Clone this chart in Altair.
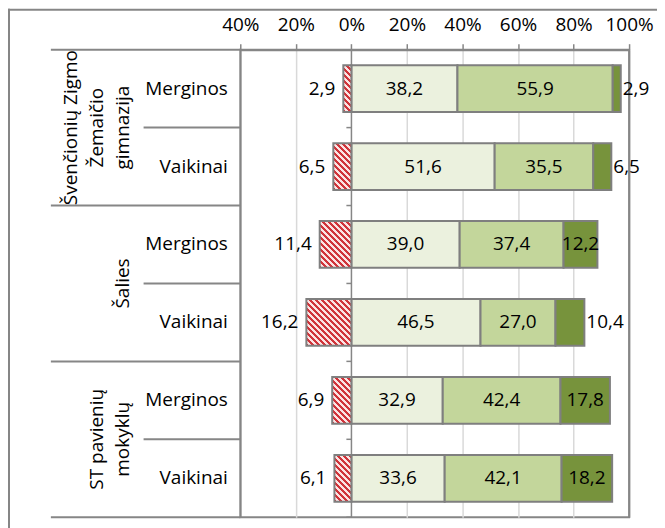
import altair as alt
import pandas as pd

# ---------------- data ----------------
group_names = ["Švenčionių Zigmo\nŽemaičio\ngimnazija", "Šalies", "ST pavienių\nmokyklų"]
genders = ["Merginos", "Vaikinai", "Merginos", "Vaikinai", "Merginos", "Vaikinai"]
negative = [2.9, 6.5, 11.4, 16.2, 6.9, 6.1]
part1 = [38.2, 51.6, 39.0, 46.5, 32.9, 33.6]
part2 = [55.9, 35.5, 37.4, 27.0, 42.4, 42.1]
part3 = [2.9, 6.5, 12.2, 10.4, 17.8, 18.2]
x_ticks = [-40, -20, 0, 20, 40, 60, 80, 100]

# ---------------- style ----------------
FONT = "Open Sans"
FS = 19
GRAY = "#868686"
BAR_STROKE = "#7F7F7F"
GRID = "#D9D9D9"
COLORS = ["#EBF1DE", "#C3D69B", "#77933C"]
RED = "#D0343A"
PINK = "#FBE3E3"
W, H = 390, 469
X_MIN, X_MAX = -40, 100
PX = W / (X_MAX - X_MIN)
BAND = 0.6
BAR_H = H / 6 * BAND
LH = 26

keys = [f"{i}|{g}" for i, g in enumerate(genders)]


def fmt(v):
    return f"{v:.1f}".replace(".", ",")


seg_rows = []
for i, k in enumerate(keys):
    start = 0.0
    for s, v in enumerate([part1[i], part2[i], part3[i]]):
        seg_rows.append(dict(key=k, seg=f"s{s}", x0=start, x1=start + v,
                             mid=start + v / 2, label=fmt(v),
                             small=bool(s == 2 and v < 11)))
        start += v
seg_df = pd.DataFrame(seg_rows)

neg_df = pd.DataFrame(dict(i=list(range(6)), key=keys,
                           x0=[-v for v in negative], zero=[0.0] * 6,
                           label=[fmt(v) for v in negative]))

group_df = pd.DataFrame(dict(g=[0, 1, 2], key=[keys[0], keys[2], keys[4]], name=group_names))
one = pd.DataFrame({"a": [0]})

XS = alt.Scale(domain=[X_MIN, X_MAX], nice=False, zero=False)
XAXIS = alt.Axis(
    orient="top", values=x_ticks, labelExpr="abs(datum.value) + '%'", title=None,
    grid=True,
    gridColor={"condition": {"test": "datum.value == -40 || datum.value == 0 || datum.value == 100",
                             "value": GRAY}, "value": GRID},
    gridWidth=1.5, domainColor=GRAY, domainWidth=2, tickColor=GRAY, tickWidth=1.5,
    tickSize=6, labelPadding=9, labelFont=FONT, labelFontSize=FS, labelColor="black",
    labelFlush=False, labelOverlap=False)

YS = alt.Scale(domain=keys, paddingInner=0, paddingOuter=0)
YAXIS = alt.Axis(title=None, ticks=False, domain=False,
                 labelExpr="split(datum.label, '|')[1]", labelPadding=13,
                 labelFont=FONT, labelFontSize=FS, labelColor="black", labelAlign="right")


def Y(band=None):
    kw = {}
    if band is not None:
        kw["bandPosition"] = band
    return alt.Y("key:N", scale=YS, axis=YAXIS, sort=keys, **kw)


def X(f):
    return alt.X(f"{f}:Q", scale=XS, axis=XAXIS)


def hatch(w, h, period=6.0):
    s = (w + h) / (w * w + h * h)
    total = w + h
    stops = []
    k = 0
    while True:
        a = k * period / total
        b = (k + 0.5) * period / total
        c = (k + 1) * period / total
        stops += [{"offset": min(a, 1), "color": RED}, {"offset": min(b, 1), "color": RED},
                  {"offset": min(b, 1), "color": PINK}, {"offset": min(c, 1), "color": PINK}]
        k += 1
        if c >= 1:
            break
    return {"gradient": "linear", "x1": 0, "y1": 1, "x2": w * s, "y2": 1 - h * s, "stops": stops}


layers = []

# positive stacked segments
layers.append(
    alt.Chart(seg_df).mark_bar(height={"band": BAND}, stroke=BAR_STROKE, strokeWidth=2).encode(
        y=Y(), x=X("x0"), x2="x1",
        color=alt.Color("seg:N", scale=alt.Scale(domain=["s0", "s1", "s2"], range=COLORS), legend=None))
)

# negative hatched bars
for i in range(6):
    w = negative[i] * PX
    layers.append(
        alt.Chart(neg_df).transform_filter(alt.datum.i == i).mark_bar(
            height={"band": BAND}, fill=hatch(w, BAR_H), stroke=BAR_STROKE, strokeWidth=2).encode(
            y=Y(), x=X("x0"), x2="zero")
    )

txt = dict(font=FONT, fontSize=FS, color="black")
layers.append(alt.Chart(seg_df).transform_filter("!datum.small").mark_text(**txt).encode(
    y=Y(), x=X("mid"), text="label:N"))
layers.append(alt.Chart(seg_df).transform_filter("datum.small").mark_text(align="left", dx=2, **txt).encode(
    y=Y(), x=X("x1"), text="label:N"))
layers.append(alt.Chart(neg_df).mark_text(align="right", dx=-8, **txt).encode(
    y=Y(), x=X("x0"), text="label:N"))

# small ticks on the 0 axis between rows
layers.append(alt.Chart(neg_df).mark_rule(color=GRAY, strokeWidth=1.5, xOffset=-5).encode(
    y=Y(1), x=X("zero"), x2="zero"))

# separators in the label area
layers.append(alt.Chart(neg_df).transform_filter("datum.i == 1 || datum.i == 3 || datum.i == 5").mark_rule(
    color=GRAY, strokeWidth=2).encode(y=Y(1), x=alt.value(-190), x2=alt.value(0)))
layers.append(alt.Chart(neg_df).transform_filter("datum.i == 0").mark_rule(
    color=GRAY, strokeWidth=2).encode(y=Y(0), x=alt.value(-190), x2=alt.value(0)))
layers.append(alt.Chart(neg_df).transform_filter("datum.i == 0 || datum.i == 2 || datum.i == 4").mark_rule(
    color=GRAY, strokeWidth=2).encode(y=Y(1), x=alt.value(-97), x2=alt.value(0)))

# group labels (rotated, last line kept next to the row labels)
for g, name in enumerate(group_names):
    n = name.count("\n") + 1
    layers.append(alt.Chart(group_df).transform_filter(alt.datum.g == g).mark_text(
        angle=270, align="center", baseline="bottom", lineBreak="\n", lineHeight=LH, **txt).encode(
        y=Y(1), x=alt.value(-108 - (n - 1) * LH), text="name:N"))

# outer frame (top and left)
layers.append(alt.Chart(one).mark_rule(color=GRAY, strokeWidth=2).encode(
    x=alt.value(-232), y=alt.value(-41), y2=alt.value(480)))
layers.append(alt.Chart(one).mark_rule(color=GRAY, strokeWidth=2).encode(
    x=alt.value(-233), x2=alt.value(420), y=alt.value(-40)))

chart = alt.layer(*layers).properties(
    width=W, height=H,
    padding={"left": 233, "top": 41, "right": 28, "bottom": 10},
    autosize=alt.AutoSizeParams(type="none"),
    background="white",
).configure_view(stroke=GRAY, strokeWidth=2)

chart.save("out.html", embed_options={"renderer": "svg", "actions": False})
